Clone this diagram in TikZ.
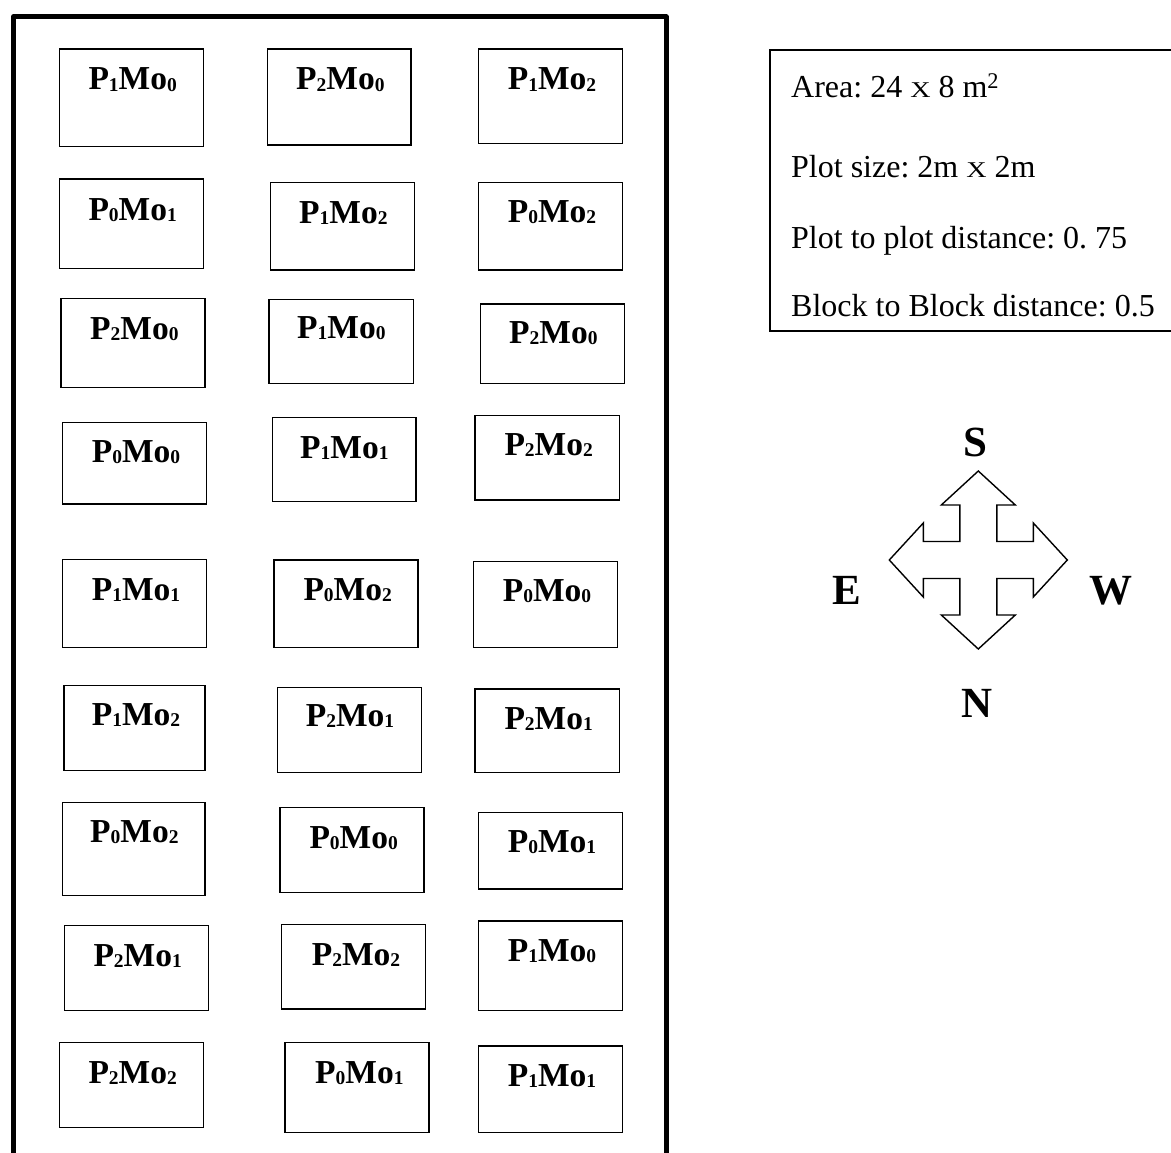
\documentclass[tikz,border=0pt]{standalone}
\usepackage{graphicx}
\usepackage{fontspec}
\setmainfont{Liberation Serif}
\frenchspacing
\newcommand\lsub[1]{\raisebox{-1.2pt}{\fontsize{19.5}{20}\selectfont #1}}
\newcommand\PM[2]{P\lsub{#1}Mo\lsub{#2}}
\newcommand\bigx{\scalebox{1.25}[1]{\fontsize{22.5}{22.5}\selectfont X}}
\newcommand\plotat[8]{%
  \node[plotbox, minimum width={#4-#2}, minimum height={#5-#3}] (#1) at ({(#2+#4)/2},{(#3+#5)/2}) {};
  \node[plab] (#1-t) at (#6,#7) {#8};
}
\begin{document}
\begin{tikzpicture}[x=1pt,y=-1pt,
  plotbox/.style={draw, line width=1.3pt, inner sep=0pt, outer sep=0pt},
  plab/.style={font=\fontsize{33.5}{35}\selectfont\bfseries, inner sep=0pt, anchor=base west},
  info/.style={font=\fontsize{32}{34}\selectfont, inner sep=0pt, anchor=base west},
  dirlab/.style={font=\fontsize{43}{45}\selectfont\bfseries, inner sep=0pt, anchor=base},
  frame/.style={line width=5pt, line join=round},
  infobox/.style={line width=1.8pt},
  compass/.style={line width=1.4pt, line join=miter}]
\useasboundingbox (0,0) rectangle (1171,1153);
\fill[white] (0,0) rectangle (1171,1153);

% outer field frame (open at the bottom)
\coordinate (fbl) at (13.5,1160);
\coordinate (ftl) at (13.5,16.8);
\coordinate (ftr) at (666.2,16.8);
\coordinate (fbr) at (666.2,1160);
\draw[frame] (fbl) -- (ftl) -- (ftr) -- (fbr);

% plots
\plotat{r1c1}{59.3}{49}{203.3}{146.7}{88.3}{90}{\PM{1}{0}}
\plotat{r1c2}{267.7}{49}{411}{145}{296}{90}{\PM{2}{0}}
\plotat{r1c3}{478.3}{49}{622.7}{143.3}{507.7}{90}{\PM{1}{2}}
\plotat{r2c1}{59.3}{179}{203.3}{268.7}{88.3}{220}{\PM{0}{1}}
\plotat{r2c2}{270.7}{182.3}{414.7}{270}{299}{223.3}{\PM{1}{2}}
\plotat{r2c3}{478.3}{182.3}{622.7}{270}{507.7}{222.7}{\PM{0}{2}}
\plotat{r3c1}{61}{298.7}{205}{387.3}{90}{339.3}{\PM{2}{0}}
\plotat{r3c2}{269}{299.3}{413.3}{383.3}{297}{338.3}{\PM{1}{0}}
\plotat{r3c3}{480.3}{304}{624.3}{383.3}{509}{343.3}{\PM{2}{0}}
\plotat{r4c1}{62.7}{422.3}{206.7}{504}{91.7}{462.7}{\PM{0}{0}}
\plotat{r4c2}{272.3}{417.3}{416}{501.7}{300}{458.3}{\PM{1}{1}}
\plotat{r4c3}{475}{415.7}{619.3}{500}{504.3}{455}{\PM{2}{2}}
\plotat{r5c1}{62.7}{559.3}{206.7}{647.3}{91.7}{600}{\PM{1}{1}}
\plotat{r5c2}{274}{560}{418}{647.3}{303.3}{600}{\PM{0}{2}}
\plotat{r5c3}{473.3}{561.7}{617.7}{647.3}{502.7}{601.7}{\PM{0}{0}}
\plotat{r6c1}{64}{685.7}{205}{770.7}{91.7}{725}{\PM{1}{2}}
\plotat{r6c2}{277.3}{687.3}{421.3}{772.3}{305.7}{726.7}{\PM{2}{1}}
\plotat{r6c3}{475}{689}{619.3}{772.3}{504.3}{729.3}{\PM{2}{1}}
\plotat{r7c1}{62.3}{802.7}{205}{895.7}{90}{842.7}{\PM{0}{2}}
\plotat{r7c2}{280}{807.7}{424}{892.3}{309.3}{848.3}{\PM{0}{0}}
\plotat{r7c3}{478.3}{812.3}{622.7}{889}{507.7}{852.7}{\PM{0}{1}}
\plotat{r8c1}{64.3}{925.7}{208.3}{1010.7}{93.3}{966.7}{\PM{2}{1}}
\plotat{r8c2}{281.7}{924.3}{425.7}{1009}{311.7}{965}{\PM{2}{2}}
\plotat{r8c3}{478.3}{921}{622.7}{1010.7}{507.7}{961.7}{\PM{1}{0}}
\plotat{r9c1}{59.3}{1042.7}{203.3}{1127.7}{88.3}{1083.3}{\PM{2}{2}}
\plotat{r9c2}{285}{1042.7}{429}{1132.3}{315}{1083.3}{\PM{0}{1}}
\plotat{r9c3}{478.3}{1046}{622.7}{1132.3}{507.7}{1086}{\PM{1}{1}}

% info box (right side runs off the page)
\draw[infobox] (770,50) rectangle (1175,331);
\node[info] (area) at (791,97.5) {Area: 24 \bigx{} 8 m\textsuperscript{2}};
\node[info] (psize) at (791,177.3) {Plot size: 2m \bigx{} 2m};
\node[info] (pdist) at (791,248.3) {Plot to plot distance: 0. 75};
\node[info] (bdist) at (791,316.7) {Block to Block distance: 0.5};

% compass
\coordinate (cc) at (978.3,560);
\draw[compass] (cc) ++(0,-89)
  -- ++(37,34) -- ++(-18.5,0) -- ++(0,36.5) -- ++(36.5,0) -- ++(0,-18.5)
  -- ++(34,37) -- ++(-34,37) -- ++(0,-18.5) -- ++(-36.5,0) -- ++(0,36.5)
  -- ++(18.5,0) -- ++(-37,34) -- ++(-37,-34) -- ++(18.5,0) -- ++(0,-36.5)
  -- ++(-36.5,0) -- ++(0,18.5) -- ++(-34,-37) -- ++(34,-37) -- ++(0,18.5)
  -- ++(36.5,0) -- ++(0,-36.5) -- ++(-18.5,0) -- cycle;
\node[dirlab] (S) at (975.7,456) {S};
\node[dirlab] (E) at (846.7,604) {E};
\node[dirlab] (W) at (1110.7,604) {W};
\node[dirlab] (N) at (976.7,717) {N};
\end{tikzpicture}
\end{document}
